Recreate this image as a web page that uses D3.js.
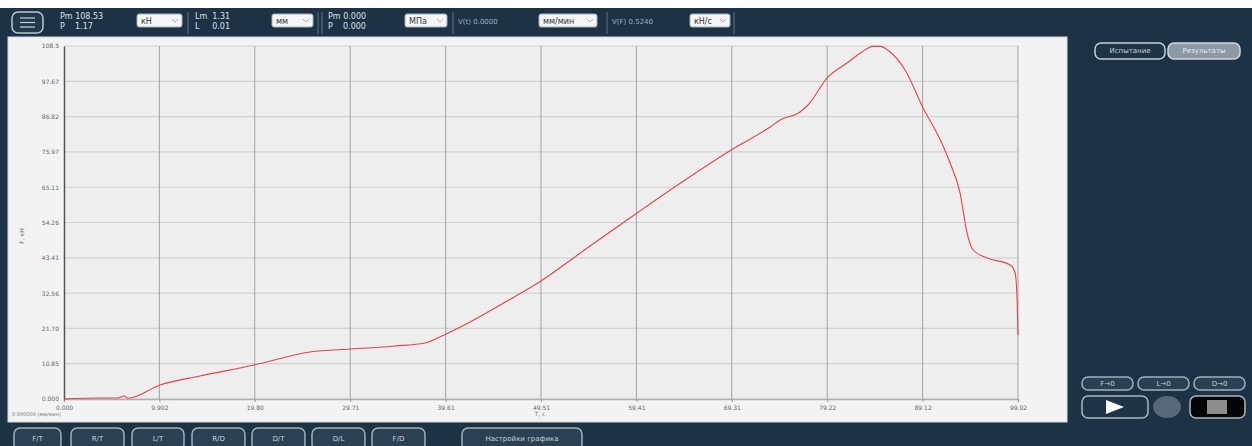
<!DOCTYPE html>
<html>
<head>
<meta charset="utf-8">
<script src="https://cdn.jsdelivr.net/npm/d3@7"></script>
<style>
  html, body { margin: 0; padding: 0; background: #fff; }
  svg { display: block; font-family: "DejaVu Sans", sans-serif; }
</style>
</head>
<body>
<script>
// curve: time (s) and force (kN)
const timeValues = [0, 3.74, 5.61, 6.23, 6.65, 9.97, 14.12, 19.72, 25.54, 29.79, 34.36, 37.47, 39.44, 42.14, 45.26, 49.51, 54.60, 59.48, 64.46, 69.24, 73.29, 74.32, 76.40, 77.23, 79.30, 81.27, 82.83, 83.97, 84.70, 85.74, 87.30, 89.12, 91.20, 91.97, 93.01, 93.73, 94.36, 95.81, 98.20, 98.72, 98.93, 99.02];
const forceValues = [0, 0.31, 0.31, 0.92, 0.25, 4.30, 7.07, 10.45, 14.45, 15.37, 16.29, 17.22, 19.68, 23.67, 28.90, 36.28, 47.04, 57.19, 67.33, 76.56, 83.63, 85.78, 88.24, 90.39, 99.00, 103.30, 106.69, 108.40, 108.40, 106.69, 101.15, 89.78, 78.09, 72.56, 63.33, 51.04, 45.81, 43.35, 41.20, 38.74, 30.44, 19.68];

const xTickValues = [0, 9.902, 19.80, 29.71, 39.61, 49.51, 59.41, 69.31, 79.22, 89.12, 99.02];
const xTickLabels = ["0.000", "9.902", "19.80", "29.71", "39.61", "49.51", "59.41", "69.31", "79.22", "89.12", "99.02"];
const yTickValues = [0, 10.85, 21.70, 32.56, 43.41, 54.26, 65.11, 75.97, 86.82, 97.67, 108.53];
const yTickLabels = ["0.000", "10.85", "21.70", "32.56", "43.41", "54.26", "65.11", "75.97", "86.82", "97.67", "108.5"];

const topReadouts = [
  { x: 60, l1: "Pm 108.53", l2: "P    1.17", unit: "кН", ux: 137, uw: 45 },
  { x: 195, l1: "Lm  1.31", l2: "L     0.01", unit: "мм", ux: 272, uw: 41 },
  { x: 328, l1: "Pm 0.000", l2: "P    0.000", unit: "МПа", ux: 405, uw: 42 }
];
const rateReadouts = [
  { x: 458, text: "V(t) 0.0000", unit: "мм/мин", ux: 539, uw: 58 },
  { x: 612, text: "V(F) 0.5240", unit: "кН/с", ux: 690, uw: 40 }
];
const bottomButtons = [
  { label: "F/T", x: 14, w: 47 }, { label: "R/T", x: 71, w: 53 }, { label: "L/T", x: 132, w: 52 },
  { label: "R/D", x: 192, w: 53 }, { label: "D/T", x: 252, w: 53 }, { label: "D/L", x: 312, w: 53 },
  { label: "F/D", x: 372, w: 53 }, { label: "Настройки графика", x: 462, w: 120 }
];
const zeroButtons = ["F→0", "L→0", "D→0"];

const W = 1252, H = 446;
const svg = d3.select("body").append("svg").attr("width", W).attr("height", H);

// background
svg.append("rect").attr("x", 0).attr("y", 8).attr("width", W).attr("height", H - 8).attr("fill", "#1d3244");

// ---- top bar
const topBar = svg.append("g");
topBar.append("rect").attr("x", 12).attr("y", 12).attr("width", 31).attr("height", 21).attr("rx", 6)
  .attr("fill", "#22384b").attr("stroke", "#b9c6d1").attr("stroke-width", 1.5);
[18, 22.5, 27].forEach(y => topBar.append("line").attr("x1", 20).attr("x2", 35).attr("y1", y).attr("y2", y)
  .attr("stroke", "#c9d3dc").attr("stroke-width", 1.2));

function dropdown(g, x, w, label) {
  g.append("rect").attr("x", x).attr("y", 14).attr("width", w).attr("height", 13).attr("rx", 2)
    .attr("fill", "#f4f6f8").attr("stroke", "#9fb0bf");
  g.append("text").attr("x", x + 4).attr("y", 24).attr("font-size", 8).attr("fill", "#333").text(label);
  g.append("path").attr("d", `M${x + w - 10},19 l3,3 l3,-3`).attr("fill", "none").attr("stroke", "#c9a0a8");
}
topReadouts.forEach(r => {
  topBar.append("text").attr("x", r.x).attr("y", 19).attr("font-size", 8).attr("fill", "#d8e0e8").attr("xml:space", "preserve").text(r.l1);
  topBar.append("text").attr("x", r.x).attr("y", 29).attr("font-size", 8).attr("fill", "#d8e0e8").attr("xml:space", "preserve").text(r.l2);
  dropdown(topBar, r.ux, r.uw, r.unit);
});
rateReadouts.forEach(r => {
  topBar.append("text").attr("x", r.x).attr("y", 24).attr("font-size", 7).attr("fill", "#9fb3c6").text(r.text);
  dropdown(topBar, r.ux, r.uw, r.unit);
});
[188, 318, 322, 453, 607, 734].forEach(x => topBar.append("line").attr("x1", x).attr("x2", x).attr("y1", 12).attr("y2", 34)
  .attr("stroke", "#5d7487").attr("stroke-width", 1));

// ---- chart panel
svg.append("rect").attr("x", 8).attr("y", 37).attr("width", 1059).attr("height", 385)
  .attr("fill", "#f3f3f3").attr("stroke", "#cfdbe4");

const margin = { left: 64, top: 46, right: 1018, bottom: 399 };
const x = d3.scaleLinear().domain([0, 99.02]).range([margin.left, margin.right]);
const y = d3.scaleLinear().domain([0, 108.53]).range([margin.bottom, margin.top]);

svg.append("rect").attr("x", margin.left).attr("y", margin.top)
  .attr("width", margin.right - margin.left).attr("height", margin.bottom - margin.top).attr("fill", "#eeeeee");

// grid
svg.append("g").selectAll("line").data(yTickValues).join("line")
  .attr("x1", margin.left).attr("x2", margin.right).attr("y1", d => y(d)).attr("y2", d => y(d))
  .attr("stroke", "#d2d2d2").attr("stroke-width", 1.2);
svg.append("g").selectAll("line").data(xTickValues.slice(1)).join("line")
  .attr("x1", d => x(d)).attr("x2", d => x(d)).attr("y1", margin.top).attr("y2", margin.bottom)
  .attr("stroke", "#a3a3a3").attr("stroke-width", 1);

// axes
const xAxis = svg.append("g").attr("transform", `translate(0,${margin.bottom})`)
  .call(d3.axisBottom(x).tickValues(xTickValues).tickFormat((d, i) => xTickLabels[i]).tickSize(3).tickPadding(4));
xAxis.select(".domain").attr("stroke", "#b0b0b0").attr("stroke-width", 1.5);
xAxis.selectAll(".tick line").attr("stroke", "#999");
xAxis.selectAll("text").attr("font-size", 6).attr("fill", "#666").attr("font-family", "DejaVu Sans");

const yAxis = svg.append("g").attr("transform", `translate(${margin.left},0)`)
  .call(d3.axisLeft(y).tickValues(yTickValues).tickFormat((d, i) => yTickLabels[i]).tickSize(0).tickPadding(5));
yAxis.select(".domain").attr("stroke", "#555").attr("stroke-width", 1.5);
yAxis.selectAll("text").attr("font-size", 6).attr("fill", "#666").attr("font-family", "DejaVu Sans");

svg.append("text").attr("transform", "translate(24,236) rotate(-90)").attr("text-anchor", "middle")
  .attr("font-size", 6).attr("fill", "#777").text("F, кН");
svg.append("text").attr("x", 540).attr("y", 416).attr("text-anchor", "middle")
  .attr("font-size", 6).attr("fill", "#777").text("T, с");
svg.append("text").attr("x", 12).attr("y", 416).attr("font-size", 5).attr("fill", "#777").text("0.000000 (мм/мин)");

// curve
const pts = timeValues.map((t, i) => [t, forceValues[i]]);
svg.append("path").datum(pts)
  .attr("d", d3.line().x(d => x(d[0])).y(d => y(d[1])).curve(d3.curveMonotoneX))
  .attr("fill", "none").attr("stroke", "#e2434b").attr("stroke-width", 1.1);

// ---- right panel
function button(g, bx, by, bw, bh, label, fill, stroke, tcol, fs) {
  g.append("rect").attr("x", bx).attr("y", by).attr("width", bw).attr("height", bh).attr("rx", 6)
    .attr("fill", fill).attr("stroke", stroke).attr("stroke-width", 1.5);
  if (label) g.append("text").attr("x", bx + bw / 2).attr("y", by + bh / 2 + fs * 0.35)
    .attr("text-anchor", "middle").attr("font-size", fs).attr("fill", tcol).text(label);
}
const right = svg.append("g");
button(right, 1095, 43, 70, 16, "Испытание", "#1f3446", "#c3ced8", "#c8d2db", 7);
button(right, 1168, 43, 72, 16, "Результаты", "#8d9aa6", "#d0d8df", "#e6ebef", 7);

zeroButtons.forEach((lab, i) => button(right, 1082 + i * 56, 377, 51, 13, lab, "#2a4053", "#9fb0bf", "#c3ced8", 7));
button(right, 1082, 396, 66, 22, null, "#1f3446", "#a7b6c3", "#fff", 8);
right.append("path").attr("d", "M1106,400 L1124,407 L1106,414 Z").attr("fill", "#ffffff");
right.append("ellipse").attr("cx", 1167).attr("cy", 407).attr("rx", 14).attr("ry", 11).attr("fill", "#56687a");
button(right, 1190, 396, 55, 22, null, "#050505", "#a7b6c3", "#fff", 8);
right.append("rect").attr("x", 1207).attr("y", 400).attr("width", 20).attr("height", 14).attr("fill", "#8e8e8e");

// ---- bottom buttons
const bottom = svg.append("g");
bottomButtons.forEach(b => button(bottom, b.x, 428, b.w, 22, b.label, "#2b4052", "#9fb0bf", "#c8d2db", 7));
</script>
</body>
</html>
